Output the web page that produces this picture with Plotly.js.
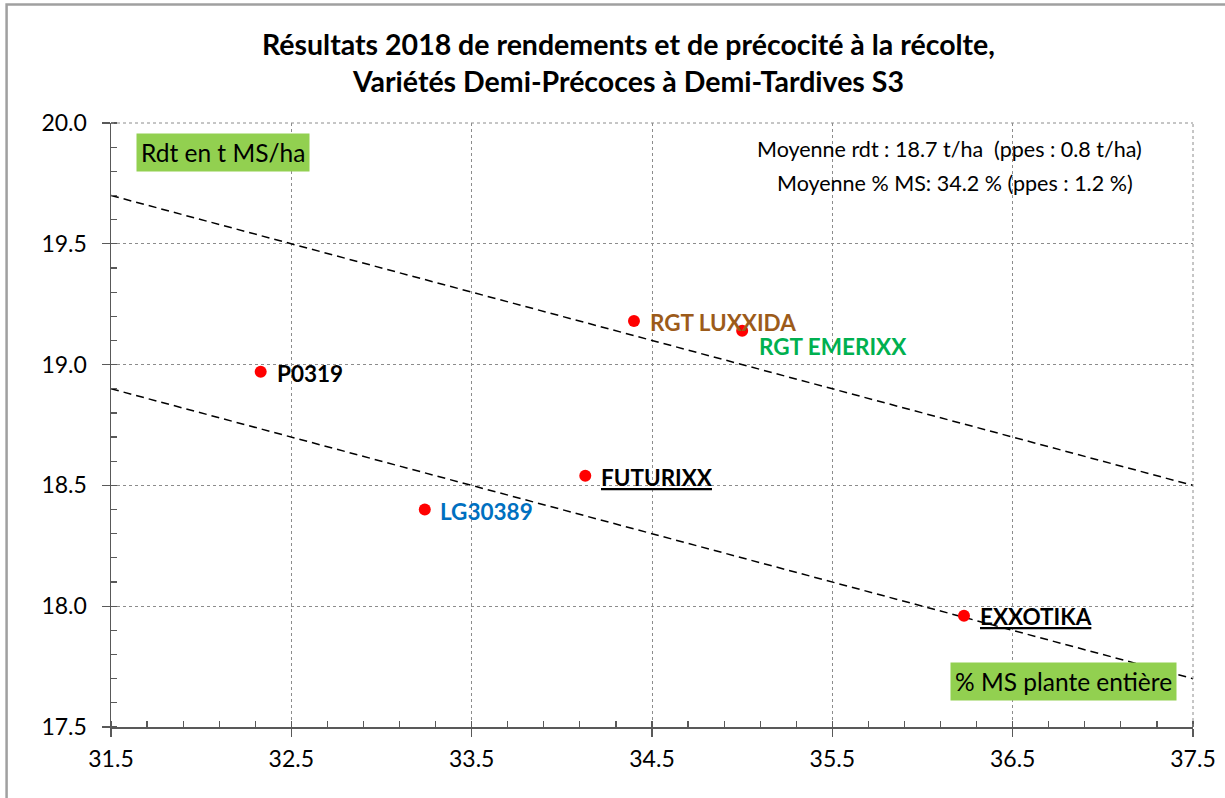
<!DOCTYPE html>
<html>
<head>
<meta charset="utf-8">
<script src="https://cdn.plot.ly/plotly-3.0.1.min.js"></script>
<style>
  html, body { margin: 0; padding: 0; background: #fff; }
  #plot { width: 1225px; height: 798px; }
</style>
</head>
<body>
<div id="plot"></div>
<script>
// varietes
const varieties = ["P0319", "LG30389", "FUTURIXX", "RGT LUXXIDA", "RGT EMERIXX", "EXXOTIKA"];
const pctMS = [32.33, 33.24, 34.13, 34.40, 35.00, 36.23];
const yieldT = [18.97, 18.40, 18.54, 19.18, 19.14, 17.96];

// droites moyenne +/- ppes
const limitX = [31.5, 37.5];
const upperY = [19.7, 18.5];
const lowerY = [18.9, 17.7];

const xTicks = [31.5, 32.5, 33.5, 34.5, 35.5, 36.5, 37.5];
const yTicks = [17.5, 18.0, 18.5, 19.0, 19.5, 20.0];

const titleLines = ["Résultats 2018 de rendements et de précocité à la récolte,", "Variétés Demi-Précoces à Demi-Tardives S3"];
const infoLines = ["Moyenne rdt : 18.7 t/ha  (ppes : 0.8 t/ha)", "Moyenne % MS: 34.2 % (ppes : 1.2 %)"];

// styles des etiquettes
const labelColors = ["#000000", "#0070C0", "#000000", "#9C5B1A", "#00B050", "#000000"];
const labelUnder = [false, false, true, false, false, true];
const labelDx = [14, 13, 14, 14, 15, 14];
const labelDy = [-2, -2, -2, -1, -16, -1];

const font = "Lato, 'Open Sans', sans-serif";

const traces = [
  {
    x: limitX, y: upperY, mode: "lines", hoverinfo: "skip",
    line: { color: "#000", width: 1.5, dash: "8px,5px" }
  },
  {
    x: limitX, y: lowerY, mode: "lines", hoverinfo: "skip",
    line: { color: "#000", width: 1.5, dash: "8px,5px" }
  },
  {
    x: pctMS, y: yieldT, mode: "markers",
    marker: { color: "#FF0000", size: 12 }
  }
];

const annotations = varieties.map((v, i) => ({
  x: pctMS[i], y: yieldT[i], xref: "x", yref: "y",
  text: "<b>" + v + "</b>", showarrow: false,
  xanchor: "left", yanchor: "middle",
  xshift: labelDx[i], yshift: labelDy[i],
  font: {
    family: font, size: 22.5, color: labelColors[i],
    lineposition: labelUnder[i] ? "under" : "none"
  }
}));

annotations.push(
  {
    xref: "paper", yref: "paper", x: 0.023, y: 0.984, xanchor: "left", yanchor: "top",
    text: "Rdt en t MS/ha", showarrow: false, bgcolor: "#92D050",
    borderpad: 4, font: { family: font, size: 24.5, color: "#000" }
  },
  {
    xref: "paper", yref: "paper", x: 0.985, y: 0.043, xanchor: "right", yanchor: "bottom",
    text: "% MS plante entière", showarrow: false, bgcolor: "#92D050",
    borderpad: 4, font: { family: font, size: 24.5, color: "#000" }
  },
  {
    xref: "paper", yref: "paper", x: 0.775, y: 0.957, xanchor: "center", yanchor: "middle",
    text: infoLines[0], showarrow: false,
    font: { family: font, size: 21.5, color: "#000" }
  },
  {
    xref: "paper", yref: "paper", x: 0.780, y: 0.901, xanchor: "center", yanchor: "middle",
    text: infoLines[1], showarrow: false,
    font: { family: font, size: 21.5, color: "#000" }
  }
);

const axisCommon = {
  showline: true, linecolor: "#595959", linewidth: 1.5,
  ticks: "outside", ticklen: 8, tickcolor: "#595959", tickwidth: 1.2,
  showgrid: true, gridcolor: "#8c8c8c", gridwidth: 1, griddash: "dot",
  zeroline: false,
  tickfont: { family: font, size: 23, color: "#000" }
};

const layout = {
  width: 1225, height: 798,
  margin: { l: 111, r: 32, t: 123, b: 71 },
  paper_bgcolor: "#fff", plot_bgcolor: "#fff",
  showlegend: false,
  title: {
    text: "<b>" + titleLines.join("<br>") + "</b>",
    xref: "container", yref: "container", x: 0.513, y: 0.931, yanchor: "middle",
    font: { family: font, size: 28.5, color: "#000" }
  },
  xaxis: Object.assign({}, axisCommon, {
    range: [31.5, 37.5], tickvals: xTicks, ticktext: xTicks.map(v => v.toFixed(1)),
    ticklabelstandoff: 3,
    minor: { ticks: "inside", dtick: 0.2, tick0: 31.5, ticklen: 6, tickcolor: "#595959", showgrid: false }
  }),
  yaxis: Object.assign({}, axisCommon, {
    range: [17.5, 20.0], tickvals: yTicks, ticktext: yTicks.map(v => v.toFixed(1)),
    ticklabelstandoff: 10,
    minor: { ticks: "inside", dtick: 0.1, tick0: 17.5, ticklen: 6, tickcolor: "#595959", showgrid: false }
  }),
  annotations: annotations,
  shapes: [
    // bord du graphique (haut et droite en pointillé)
    { type: "line", xref: "paper", yref: "paper", x0: 0, x1: 1, y0: 1, y1: 1,
      line: { color: "#8c8c8c", width: 1, dash: "dot" } },
    { type: "line", xref: "paper", yref: "paper", x0: 1, x1: 1, y0: 0, y1: 1,
      line: { color: "#8c8c8c", width: 1, dash: "dot" } },
    // cadre exterieur
    { type: "path", xref: "paper", yref: "paper",
      path: "M -0.0965,-0.12 L -0.0965,1.196 L 1.05,1.196",
      line: { color: "#a0a0a0", width: 2.5 } }
  ]
};

Plotly.newPlot("plot", traces, layout, { displayModeBar: false, staticPlot: true });
</script>
</body>
</html>
